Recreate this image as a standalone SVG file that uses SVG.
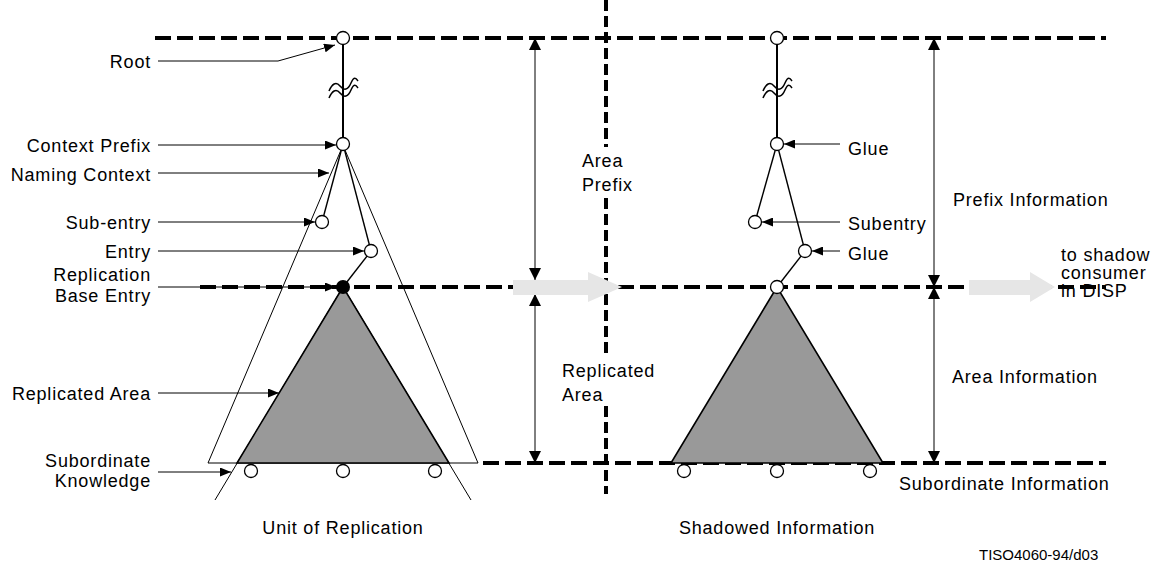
<svg xmlns="http://www.w3.org/2000/svg" width="1157" height="563" viewBox="0 0 1157 563">
<defs>
<style>
text{font-family:"Liberation Sans",Arial,sans-serif;font-size:18px;fill:#000;letter-spacing:0.8px}
.r{text-anchor:end}
.m{text-anchor:middle}
.hd{stroke:#000;stroke-width:4;stroke-dasharray:16 6;fill:none}
.vd{stroke:#000;stroke-width:4;stroke-dasharray:11 5;fill:none}
.thin{stroke:#000;stroke-width:1;fill:none}
.lab{stroke:#000;stroke-width:1;fill:none;marker-end:url(#ah)}
.dbl{stroke:#000;stroke-width:1;fill:none;marker-end:url(#ah2);marker-start:url(#ah2)}
.edge{stroke:#000;stroke-width:1.4;fill:none}
.sq{stroke:#000;stroke-width:1.5;fill:none}
.trunk{stroke:#000;stroke-width:2;fill:none}
.node{fill:#fff;stroke:#000;stroke-width:1.3}
.tri{fill:#999;stroke:#000;stroke-width:1.6}
.big{fill:#e6e6e6}
</style>
<marker id="ah" markerUnits="userSpaceOnUse" markerWidth="11" markerHeight="9" refX="11" refY="4.5" orient="auto-start-reverse">
<path d="M0,0 L11,4.5 L0,9 Z" fill="#000"/>
</marker>
<marker id="ah2" markerUnits="userSpaceOnUse" markerWidth="12" markerHeight="12" refX="12" refY="6" orient="auto-start-reverse">
<path d="M0,0 L12,6 L0,12 Z" fill="#000"/>
</marker>
</defs>
<rect width="1157" height="563" fill="#fff"/>

<g id="level-lines">
<line class="hd" x1="155" y1="38" x2="1106" y2="38"/>
<line class="hd" x1="200" y1="287" x2="1106" y2="287"/>
<line class="hd" x1="483" y1="463" x2="1106" y2="463"/>
<line class="vd" x1="606" y1="0" x2="606" y2="147"/>
<line class="vd" x1="606" y1="198" x2="606" y2="355"/>
<line class="vd" x1="606" y1="406" x2="606" y2="494"/>
</g>

<g id="unit-of-replication">
<polygon class="thin" points="341,150 208,463 478,463 345,150"/>
<line class="thin" x1="343" y1="287" x2="215" y2="500"/>
<line class="thin" x1="343" y1="287" x2="471" y2="500"/>
<polygon class="tri" points="343,287 237,463 449,463"/>
</g>

<g id="shadow-area">
<polygon class="tri" points="777,287 671,463 883,463"/>
</g>

<g id="connectors">
<line class="trunk" x1="343" y1="38" x2="343" y2="144"/>
<path class="sq" d="M329,91 C332,84 336,81 340,86 S348,90 351,83 S356,78 358,81"/>
<path class="sq" d="M329,98 C332,91 336,88 340,93 S348,97 351,90 S356,85 358,88"/>
<line class="edge" x1="343" y1="144" x2="322" y2="222"/>
<line class="edge" x1="343" y1="144" x2="371" y2="251"/>
<line class="edge" x1="371" y1="251" x2="343" y2="287"/>

<line class="trunk" x1="777" y1="38" x2="777" y2="144"/>
<path class="sq" d="M763,91 C766,84 770,81 774,86 S782,90 785,83 S790,78 792,81"/>
<path class="sq" d="M763,98 C766,91 770,88 774,93 S782,97 785,90 S790,85 792,88"/>
<line class="edge" x1="777" y1="144" x2="755" y2="222"/>
<line class="edge" x1="777" y1="144" x2="805" y2="251"/>
<line class="edge" x1="805" y1="251" x2="777" y2="287"/>

<polyline class="lab" points="158,61 278,61 335,45"/>
<line class="lab" x1="158" y1="145" x2="336" y2="145"/>
<line class="lab" x1="158" y1="173" x2="329" y2="173"/>
<line class="lab" x1="158" y1="222" x2="315" y2="222"/>
<line class="lab" x1="158" y1="251" x2="364" y2="251"/>
<line class="lab" x1="158" y1="287" x2="336" y2="287"/>
<line class="lab" x1="158" y1="393" x2="279" y2="393"/>
<line class="lab" x1="158" y1="472" x2="231" y2="472"/>

<line class="lab" x1="840" y1="144" x2="784" y2="144"/>
<line class="lab" x1="840" y1="222" x2="762" y2="222"/>
<line class="lab" x1="840" y1="251" x2="812" y2="251"/>

<line class="dbl" x1="535" y1="38" x2="535" y2="280"/>
<line class="dbl" x1="535" y1="294" x2="535" y2="463"/>
<line class="dbl" x1="934" y1="38" x2="934" y2="287"/>
<line class="dbl" x1="934" y1="287" x2="934" y2="463"/>

<polygon class="big" points="513,280 588,280 588,272 622,287 588,302 588,295 513,295"/>
<polygon class="big" points="969,280 1030,280 1030,272 1055,287 1030,302 1030,295 969,295"/>
</g>

<g id="node-root"><circle class="node" cx="343" cy="38" r="6.5"/></g>
<g id="node-context-prefix"><circle class="node" cx="343" cy="144" r="6.5"/></g>
<g id="node-sub-entry"><circle class="node" cx="322" cy="222" r="6.5"/></g>
<g id="node-entry"><circle class="node" cx="371" cy="251" r="6.5"/></g>
<g id="node-base-entry"><circle cx="343" cy="287" r="7" fill="#000"/></g>
<g id="node-sub-1"><circle class="node" cx="251" cy="471" r="6.5"/></g>
<g id="node-sub-2"><circle class="node" cx="343" cy="471" r="6.5"/></g>
<g id="node-sub-3"><circle class="node" cx="435" cy="471" r="6.5"/></g>

<g id="node-s-root"><circle class="node" cx="777" cy="38" r="6.5"/></g>
<g id="node-s-glue"><circle class="node" cx="777" cy="144" r="6.5"/></g>
<g id="node-s-subentry"><circle class="node" cx="755" cy="222" r="6.5"/></g>
<g id="node-s-glue2"><circle class="node" cx="805" cy="251" r="6.5"/></g>
<g id="node-s-base"><circle class="node" cx="777" cy="287" r="6.5"/></g>
<g id="node-s-sub-1"><circle class="node" cx="684" cy="471" r="6.5"/></g>
<g id="node-s-sub-2"><circle class="node" cx="777" cy="471" r="6.5"/></g>
<g id="node-s-sub-3"><circle class="node" cx="870" cy="471" r="6.5"/></g>

<g id="labels">
<text class="r" x="151" y="68">Root</text>
<text class="r" x="151" y="152">Context Prefix</text>
<text class="r" x="151" y="181">Naming Context</text>
<text class="r" x="151" y="229">Sub-entry</text>
<text class="r" x="151" y="258">Entry</text>
<text class="r" x="151" y="281">Replication</text>
<text class="r" x="151" y="302">Base Entry</text>
<text class="r" x="151" y="400">Replicated Area</text>
<text class="r" x="151" y="467">Subordinate</text>
<text class="r" x="151" y="487">Knowledge</text>

<text x="582" y="167">Area</text>
<text x="582" y="191">Prefix</text>
<text x="562" y="377">Replicated</text>
<text x="562" y="401">Area</text>

<text x="848" y="155">Glue</text>
<text x="848" y="230">Subentry</text>
<text x="848" y="260">Glue</text>

<text x="953" y="206">Prefix Information</text>
<text x="952" y="383">Area Information</text>
<text x="899" y="490">Subordinate Information</text>
<text x="1061" y="261">to shadow</text>
<text x="1061" y="279">consumer</text>
<text x="1061" y="297">in DISP</text>

<text class="m" x="343" y="534">Unit of Replication</text>
<text class="m" x="777" y="534">Shadowed Information</text>
<text x="979" y="560" style="font-size:15px;letter-spacing:0">TISO4060-94/d03</text>
</g>
</svg>
